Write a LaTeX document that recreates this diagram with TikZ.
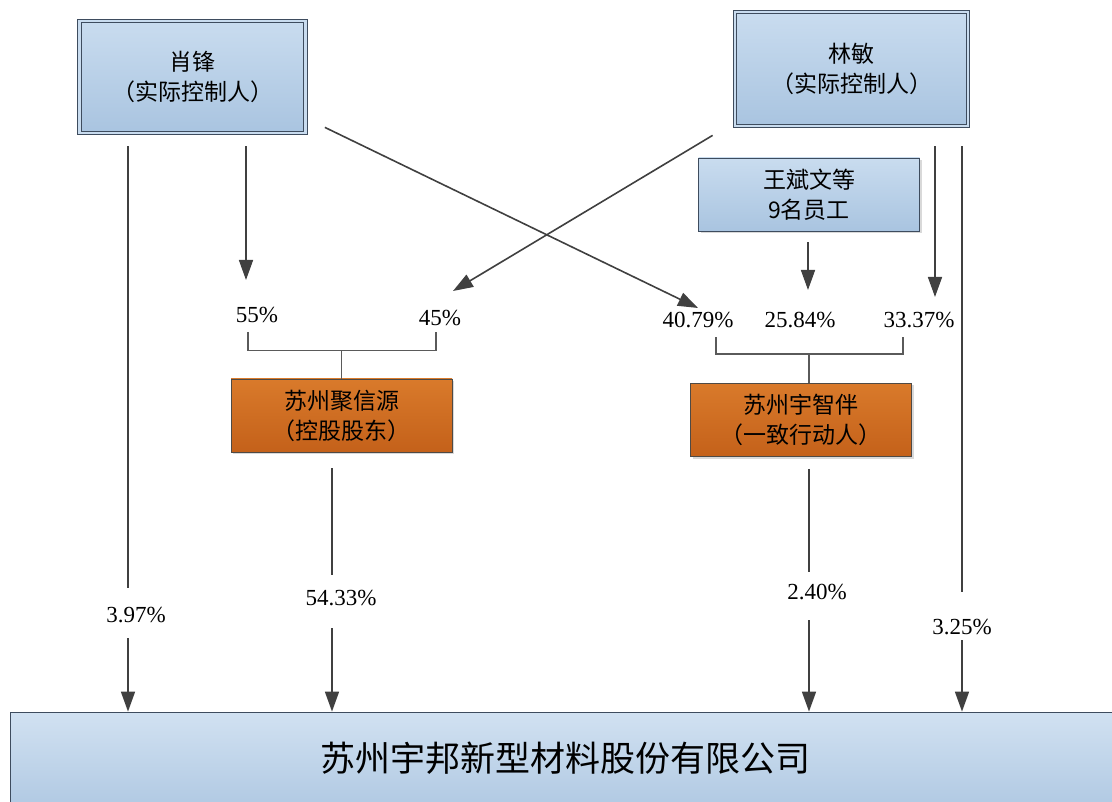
\documentclass[tikz,border=0pt]{standalone}
\usepackage{fontspec}
\setmainfont{Liberation Serif}
\newfontfamily\cjk{Noto Sans CJK SC}
\usetikzlibrary{arrows.meta,shadows}
\definecolor{boxtop}{HTML}{C9DCEF}
\definecolor{boxbot}{HTML}{A9C4E0}
\definecolor{boxline}{HTML}{3E4C5E}
\definecolor{orgtop}{HTML}{D97A2B}
\definecolor{orgbot}{HTML}{C4611A}
\definecolor{orgline}{HTML}{4F4A45}
\definecolor{linec}{HTML}{404040}
\definecolor{brkc}{HTML}{5A5A5A}

\begin{document}
\begin{tikzpicture}[
    x=1pt, y=-1pt,
    every node/.style={font=\cjk\fontsize{23}{30}\selectfont},
    holder/.style={draw=boxline, line width=0.8pt, double=boxtop, double distance=2.5pt, top color=boxtop, bottom color=boxbot, align=center, drop shadow={shadow xshift=2pt, shadow yshift=-2pt, opacity=0.3}},
    staff/.style={draw=boxline, line width=0.8pt, top color=boxtop, bottom color=boxbot, align=center, minimum width=221pt, minimum height=73pt, drop shadow={shadow xshift=2pt, shadow yshift=-2pt, opacity=0.3}},
    firm/.style={draw=orgline, line width=0.8pt, top color=orgtop, bottom color=orgbot, align=center, minimum width=221pt, minimum height=73pt, drop shadow={shadow xshift=2pt, shadow yshift=-2pt, opacity=0.3}},
    corp/.style={draw=boxline, line width=0.8pt, top color=boxtop!85!white, bottom color=boxbot!90!white, minimum width=1110pt, minimum height=92pt, font=\cjk\fontsize{35}{40}\selectfont},
    pct/.style={font=\fontsize{23}{26}\selectfont, inner sep=0pt},
    ln/.style={draw=linec, line width=1.6pt},
    arr/.style={ln, -{Triangle[length=20pt,width=14pt]}},
    brk/.style={draw=brkc, line width=1.5pt}
]
\useasboundingbox (0,0) rectangle (1112,802);

\node[holder, minimum width=226pt, minimum height=112pt] (xf) at (192.5,77) {肖锋\\（实际控制人）};
\node[holder, minimum width=233pt, minimum height=114pt] (lm) at (851.5,69) {林敏\\（实际控制人）};
\node[staff] (wb) at (809,194.5) {王斌文等\\9名员工};
\node[firm] (jxy) at (341.5,415.5) {苏州聚信源\\（控股股东）};
\node[firm] (yzb) at (801,420) {苏州宇智伴\\（一致行动人）};
\node[corp] (co) at (565,758) {苏州宇邦新型材料股份有限公司};

\node[pct] (p55) at (257,315.5) {55\%};
\node[pct] (p45) at (440,318.5) {45\%};
\node[pct] (p4079) at (698,320) {40.79\%};
\node[pct] (p2584) at (800,320) {25.84\%};
\node[pct] (p3337) at (919,320) {33.37\%};
\node[pct] (p397) at (136,615.5) {3.97\%};
\node[pct] (p5433) at (341,598.5) {54.33\%};
\node[pct] (p240) at (817,592.5) {2.40\%};
\node[pct] (p325) at (962,627) {3.25\%};

\draw[ln, shorten <=13pt, shorten >=19.5pt] ([xshift=-8pt]p397.north |- xf.south) -- ([xshift=-8pt]p397.north);
\draw[arr, shorten <=14.5pt] ([xshift=-8pt]p397.south) -- ([xshift=-8pt]p397.south |- co.north);
\draw[arr, shorten <=13pt, shorten >=27.5pt] ([xshift=-11pt]p55.north |- xf.south) -- ([xshift=-11pt]p55.north);
\draw[arr] ([xshift=19pt,yshift=6pt]xf.south east) -- ([yshift=4pt]p4079.north);
\draw[arr] ([xshift=-22pt,yshift=-9pt]lm.south west) -- ([xshift=13pt,yshift=19.5pt]p45.north);
\draw[arr, shorten <=11pt, shorten >=22pt] ([xshift=8pt]p2584.north |- wb.south) -- ([xshift=8pt]p2584.north);
\draw[arr, shorten <=20pt, shorten >=15pt] ([xshift=16pt]p3337.north |- lm.south) -- ([xshift=16pt]p3337.north);
\draw[ln, shorten <=20pt, shorten >=27pt] (p325.north |- lm.south) -- (p325.north);
\draw[arr, shorten <=5pt] (p325.south) -- (p325.south |- co.north);
\draw[ln, shorten <=16pt, shorten >=15pt] ([xshift=-9pt]p5433.north |- jxy.south) -- ([xshift=-9pt]p5433.north);
\draw[arr, shorten <=21.5pt] ([xshift=-9pt]p5433.south) -- ([xshift=-9pt]p5433.south |- co.north);
\draw[ln, shorten <=12pt, shorten >=12.5pt] ([xshift=-8pt]p240.north |- yzb.south) -- ([xshift=-8pt]p240.north);
\draw[arr, shorten <=19.5pt] ([xshift=-8pt]p240.south) -- ([xshift=-8pt]p240.south |- co.north);

\draw[brk] ([xshift=-9pt,yshift=-8.5pt]p55.south) |- ([yshift=28pt]jxy.north) -| ([xshift=-4pt,yshift=-5.5pt]p45.south);
\draw[brk] (jxy.north) -- ([yshift=28pt]jxy.north);
\draw[brk] ([xshift=18pt,yshift=-9pt]p4079.south) |- ([xshift=8pt,yshift=29pt]yzb.north) -| ([xshift=-16pt,yshift=-9pt]p3337.south);
\draw[brk] ([xshift=8pt]yzb.north) -- ([xshift=8pt,yshift=29pt]yzb.north);
\end{tikzpicture}
\end{document}
